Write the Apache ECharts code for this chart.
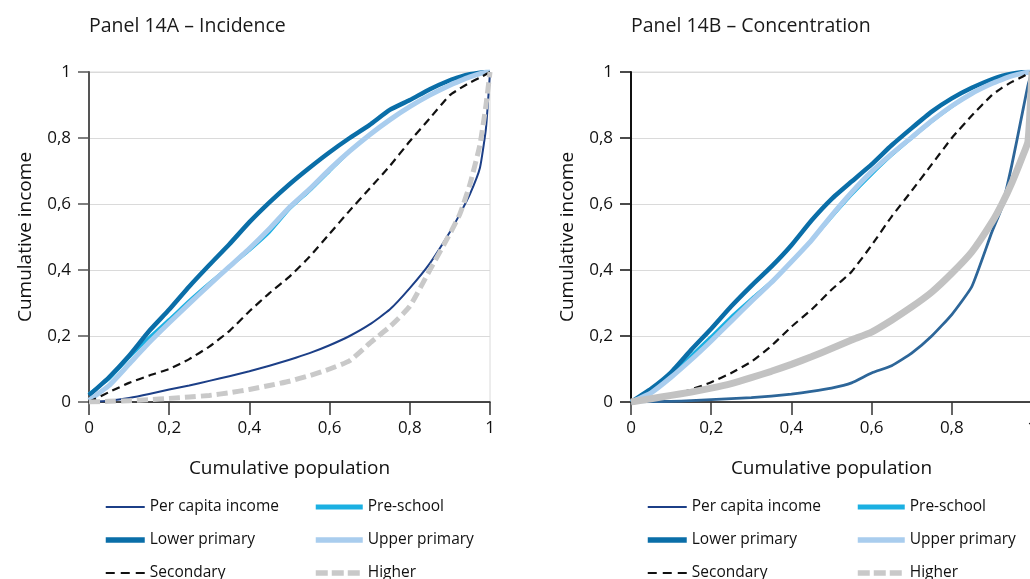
<!DOCTYPE html>
<html>
<head>
<meta charset="utf-8">
<script src="https://cdn.jsdelivr.net/npm/echarts@6/dist/echarts.min.js"></script>
<style>
  html, body { margin: 0; padding: 0; background: #fff; overflow: hidden; }
  #wrap { position: relative; width: 1030px; height: 579px; overflow: hidden; }
  #panelA { position: absolute; left: 0; top: 0; width: 540px; height: 640px; }
  #panelB { position: absolute; left: 540px; top: 0; width: 560px; height: 640px; }
</style>
</head>
<body>
<div id="wrap">
  <div id="panelA"></div>
  <div id="panelB"></div>
</div>
<script>
// Cumulative share of population (x) shared by every curve
const popShare = [0, 0.05, 0.1, 0.15, 0.2, 0.25, 0.3, 0.35, 0.4, 0.45, 0.5, 0.55, 0.6,
                  0.65, 0.7, 0.75, 0.8, 0.85, 0.9, 0.925, 0.95, 0.975, 0.99, 1];

const seriesNames = ['Per capita income', 'Pre-school', 'Lower primary', 'Upper primary', 'Secondary', 'Higher'];
const xTickLabels = ['0', '0,2', '0,4', '0,6', '0,8', '1'];
const yTickLabels = ['0', '0,2', '0,4', '0,6', '0,8', '1'];

// Panel 14A – incidence curves
const perCapitaA    = [0, 0.004, 0.012, 0.024, 0.038, 0.05, 0.064, 0.078, 0.093, 0.11, 0.128, 0.148, 0.172,
                       0.2, 0.235, 0.28, 0.345, 0.42, 0.515, 0.57, 0.63, 0.71, 0.83, 1];
const preSchoolA    = [0.025, 0.07, 0.135, 0.195, 0.25, 0.307, 0.36, 0.41, 0.46, 0.515, 0.585, 0.64, 0.7,
                       0.76, 0.81, 0.855, 0.895, 0.93, 0.96, 0.973, 0.985, 0.995, 0.999, 1];
const lowerPrimaryA = [0.02, 0.075, 0.14, 0.215, 0.28, 0.35, 0.415, 0.478, 0.545, 0.605, 0.66, 0.71, 0.757,
                       0.8, 0.84, 0.885, 0.915, 0.948, 0.975, 0.985, 0.993, 0.998, 1, 1];
const upperPrimaryA = [0.005, 0.05, 0.115, 0.18, 0.24, 0.298, 0.355, 0.41, 0.465, 0.525, 0.59, 0.645, 0.705,
                       0.76, 0.81, 0.855, 0.895, 0.93, 0.96, 0.973, 0.985, 0.995, 0.999, 1];
const secondaryA    = [0, 0.03, 0.058, 0.08, 0.1, 0.13, 0.168, 0.215, 0.275, 0.33, 0.38, 0.44, 0.51,
                       0.58, 0.647, 0.715, 0.79, 0.86, 0.93, 0.95, 0.968, 0.983, 0.993, 1];
const higherA       = [0, 0.002, 0.004, 0.007, 0.011, 0.015, 0.02, 0.028, 0.038, 0.05, 0.063, 0.08, 0.1,
                       0.125, 0.178, 0.228, 0.29, 0.4, 0.51, 0.57, 0.66, 0.78, 0.9, 1];

// Panel 14B – concentration curves
const perCapitaB    = [0, 0.001, 0.002, 0.004, 0.007, 0.01, 0.013, 0.018, 0.024, 0.032, 0.042, 0.058, 0.088,
                       0.11, 0.148, 0.2, 0.265, 0.35, 0.515, 0.59, 0.72, 0.87, 0.96, 1];
const preSchoolB    = [0, 0.035, 0.085, 0.14, 0.198, 0.258, 0.312, 0.365, 0.425, 0.49, 0.56, 0.628, 0.69,
                       0.748, 0.8, 0.85, 0.895, 0.935, 0.965, 0.977, 0.988, 0.996, 0.999, 1];
const lowerPrimaryB = [0, 0.04, 0.09, 0.158, 0.222, 0.29, 0.352, 0.41, 0.475, 0.55, 0.615, 0.668, 0.72,
                       0.778, 0.83, 0.88, 0.92, 0.952, 0.978, 0.988, 0.995, 0.999, 1, 1];
const upperPrimaryB = [0, 0.028, 0.075, 0.128, 0.185, 0.245, 0.305, 0.362, 0.425, 0.49, 0.565, 0.635, 0.698,
                       0.752, 0.802, 0.852, 0.897, 0.935, 0.965, 0.977, 0.988, 0.996, 0.999, 1];
const secondaryB    = [0, 0.005, 0.02, 0.038, 0.06, 0.088, 0.122, 0.17, 0.228, 0.28, 0.34, 0.395, 0.475,
                       0.562, 0.64, 0.72, 0.8, 0.868, 0.93, 0.952, 0.97, 0.985, 0.995, 1];
const higherB       = [0, 0.01, 0.02, 0.03, 0.042, 0.056, 0.074, 0.093, 0.114, 0.137, 0.162, 0.188, 0.212,
                       0.248, 0.288, 0.333, 0.39, 0.455, 0.545, 0.6, 0.665, 0.74, 0.79, 1];

const FONT = '"Open Sans", "Noto Sans", sans-serif';

function pairs(ys) { return popShare.map((x, i) => [x, ys[i]]); }

function tickLabel(labels) {
  return v => labels[Math.round(v / 0.2)];
}

const styles = {
  perCapita:    { color: '#1c3f87', width: 2 },
  preSchool:    { color: '#1bb0e2', width: 3.2 },
  lowerPrimary: { color: '#0a6ea8', width: 4.5 },
  upperPrimary: { color: '#a9cdee', width: 5 },
  secondary:    { color: '#111111', width: 2.2, type: [8, 5] },
  higherDash:   { color: '#c9c9c9', width: 5, type: [11, 5] }
};

// key samples use the shared legend look in both panels
const keyStyles = {
  'Per capita income': { color: '#1c3f87', width: 2.2 },
  'Pre-school':        { color: '#1bb0e2', width: 5 },
  'Lower primary':     { color: '#0a6ea8', width: 5.5 },
  'Upper primary':     { color: '#a9cdee', width: 5.5 },
  'Secondary':         { color: '#111111', width: 2.2, type: [9, 6] },
  'Higher':            { color: '#c9c9c9', width: 5.5, type: [12, 4] }
};

function keyItem(name) {
  return { name: name, lineStyle: Object.assign({ cap: 'butt' }, keyStyles[name]) };
}

function lineSeries(name, ys, style) {
  return {
    name: name,
    type: 'line',
    data: pairs(ys),
    symbol: 'none',
    smooth: 0.15,
    silent: true,
    color: style.color,
    lineStyle: Object.assign({ cap: 'butt', join: 'round' }, style)
  };
}

function panelOption(title, gridLeft, yAxisColor, seriesList) {
  const legendBase = {
    orient: 'vertical',
    top: 494,
    height: 120,
    itemHeight: 16,
    itemGap: 17,
    selectedMode: false,
    // hide the marker dot so each key entry is a plain line sample
    itemStyle: { color: 'rgba(0,0,0,0)', borderWidth: 0, opacity: 0 },
    textStyle: { fontFamily: FONT, fontSize: 15.5, color: '#111' }
  };
  return {
    animation: false,
    title: {
      text: title,
      left: gridLeft - 5,
      top: 11,
      textStyle: { fontFamily: FONT, fontSize: 19.5, fontWeight: 'normal', color: '#1a1a1a' }
    },
    grid: {
      left: gridLeft, top: 72, width: 401, height: 330,
      show: true, borderColor: '#dadada', borderWidth: 1
    },
    xAxis: {
      type: 'value', min: 0, max: 1, interval: 0.2,
      name: 'Cumulative population', nameLocation: 'middle', nameGap: 57,
      nameTextStyle: { fontFamily: FONT, fontSize: 19, color: '#111' },
      axisLine: { show: true, lineStyle: { color: '#111', width: 1.5 } },
      axisTick: { show: true, length: 13, lineStyle: { color: '#333', width: 1.5 } },
      axisLabel: { margin: 18, fontFamily: FONT, fontSize: 17, color: '#111', formatter: tickLabel(xTickLabels) },
      splitLine: { show: false }
    },
    yAxis: {
      type: 'value', min: 0, max: 1, interval: 0.2,
      name: 'Cumulative income', nameLocation: 'middle', nameGap: 54,
      nameTextStyle: { fontFamily: FONT, fontSize: 19, color: '#111' },
      axisLine: { show: true, lineStyle: { color: yAxisColor, width: 2 } },
      axisTick: { show: true, length: 11, lineStyle: { color: yAxisColor, width: 1.5 } },
      axisLabel: { margin: 18, fontFamily: FONT, fontSize: 17, color: '#111', formatter: tickLabel(yTickLabels) },
      splitLine: { show: true, lineStyle: { color: '#dadada', width: 1.2 } }
    },
    legend: [
      Object.assign({}, legendBase, { left: gridLeft + 9, itemWidth: 39,
        data: [seriesNames[0], seriesNames[2], seriesNames[4]].map(keyItem) }),
      Object.assign({}, legendBase, { left: gridLeft + 219, itemWidth: 47,
        data: [seriesNames[1], seriesNames[3], seriesNames[5]].map(keyItem) })
    ],
    series: seriesList
  };
}

// Panel A
const chartA = echarts.init(document.getElementById('panelA'), null, { renderer: 'canvas' });
chartA.setOption(panelOption(
  'Panel 14A – Incidence', 89, '#555555',
  [
    lineSeries(seriesNames[0], perCapitaA, styles.perCapita),
    lineSeries(seriesNames[1], preSchoolA, styles.preSchool),
    lineSeries(seriesNames[2], lowerPrimaryA, styles.lowerPrimary),
    lineSeries(seriesNames[3], upperPrimaryA, styles.upperPrimary),
    lineSeries(seriesNames[4], secondaryA, styles.secondary),
    lineSeries(seriesNames[5], higherA, styles.higherDash)
  ]
));

// Panel B: income and higher-education curves are drawn in their own styles
const chartB = echarts.init(document.getElementById('panelB'), null, { renderer: 'canvas' });
chartB.setOption(panelOption(
  'Panel 14B – Concentration', 91, '#111111',
  [
    lineSeries(seriesNames[0], perCapitaB, { color: '#2d6699', width: 2.8 }),
    lineSeries(seriesNames[1], preSchoolB, styles.preSchool),
    lineSeries(seriesNames[2], lowerPrimaryB, styles.lowerPrimary),
    lineSeries(seriesNames[3], upperPrimaryB, styles.upperPrimary),
    lineSeries(seriesNames[4], secondaryB, styles.secondary),
    lineSeries(seriesNames[5], higherB, { color: '#c2c2c2', width: 7 })
  ]
));
</script>
</body>
</html>
